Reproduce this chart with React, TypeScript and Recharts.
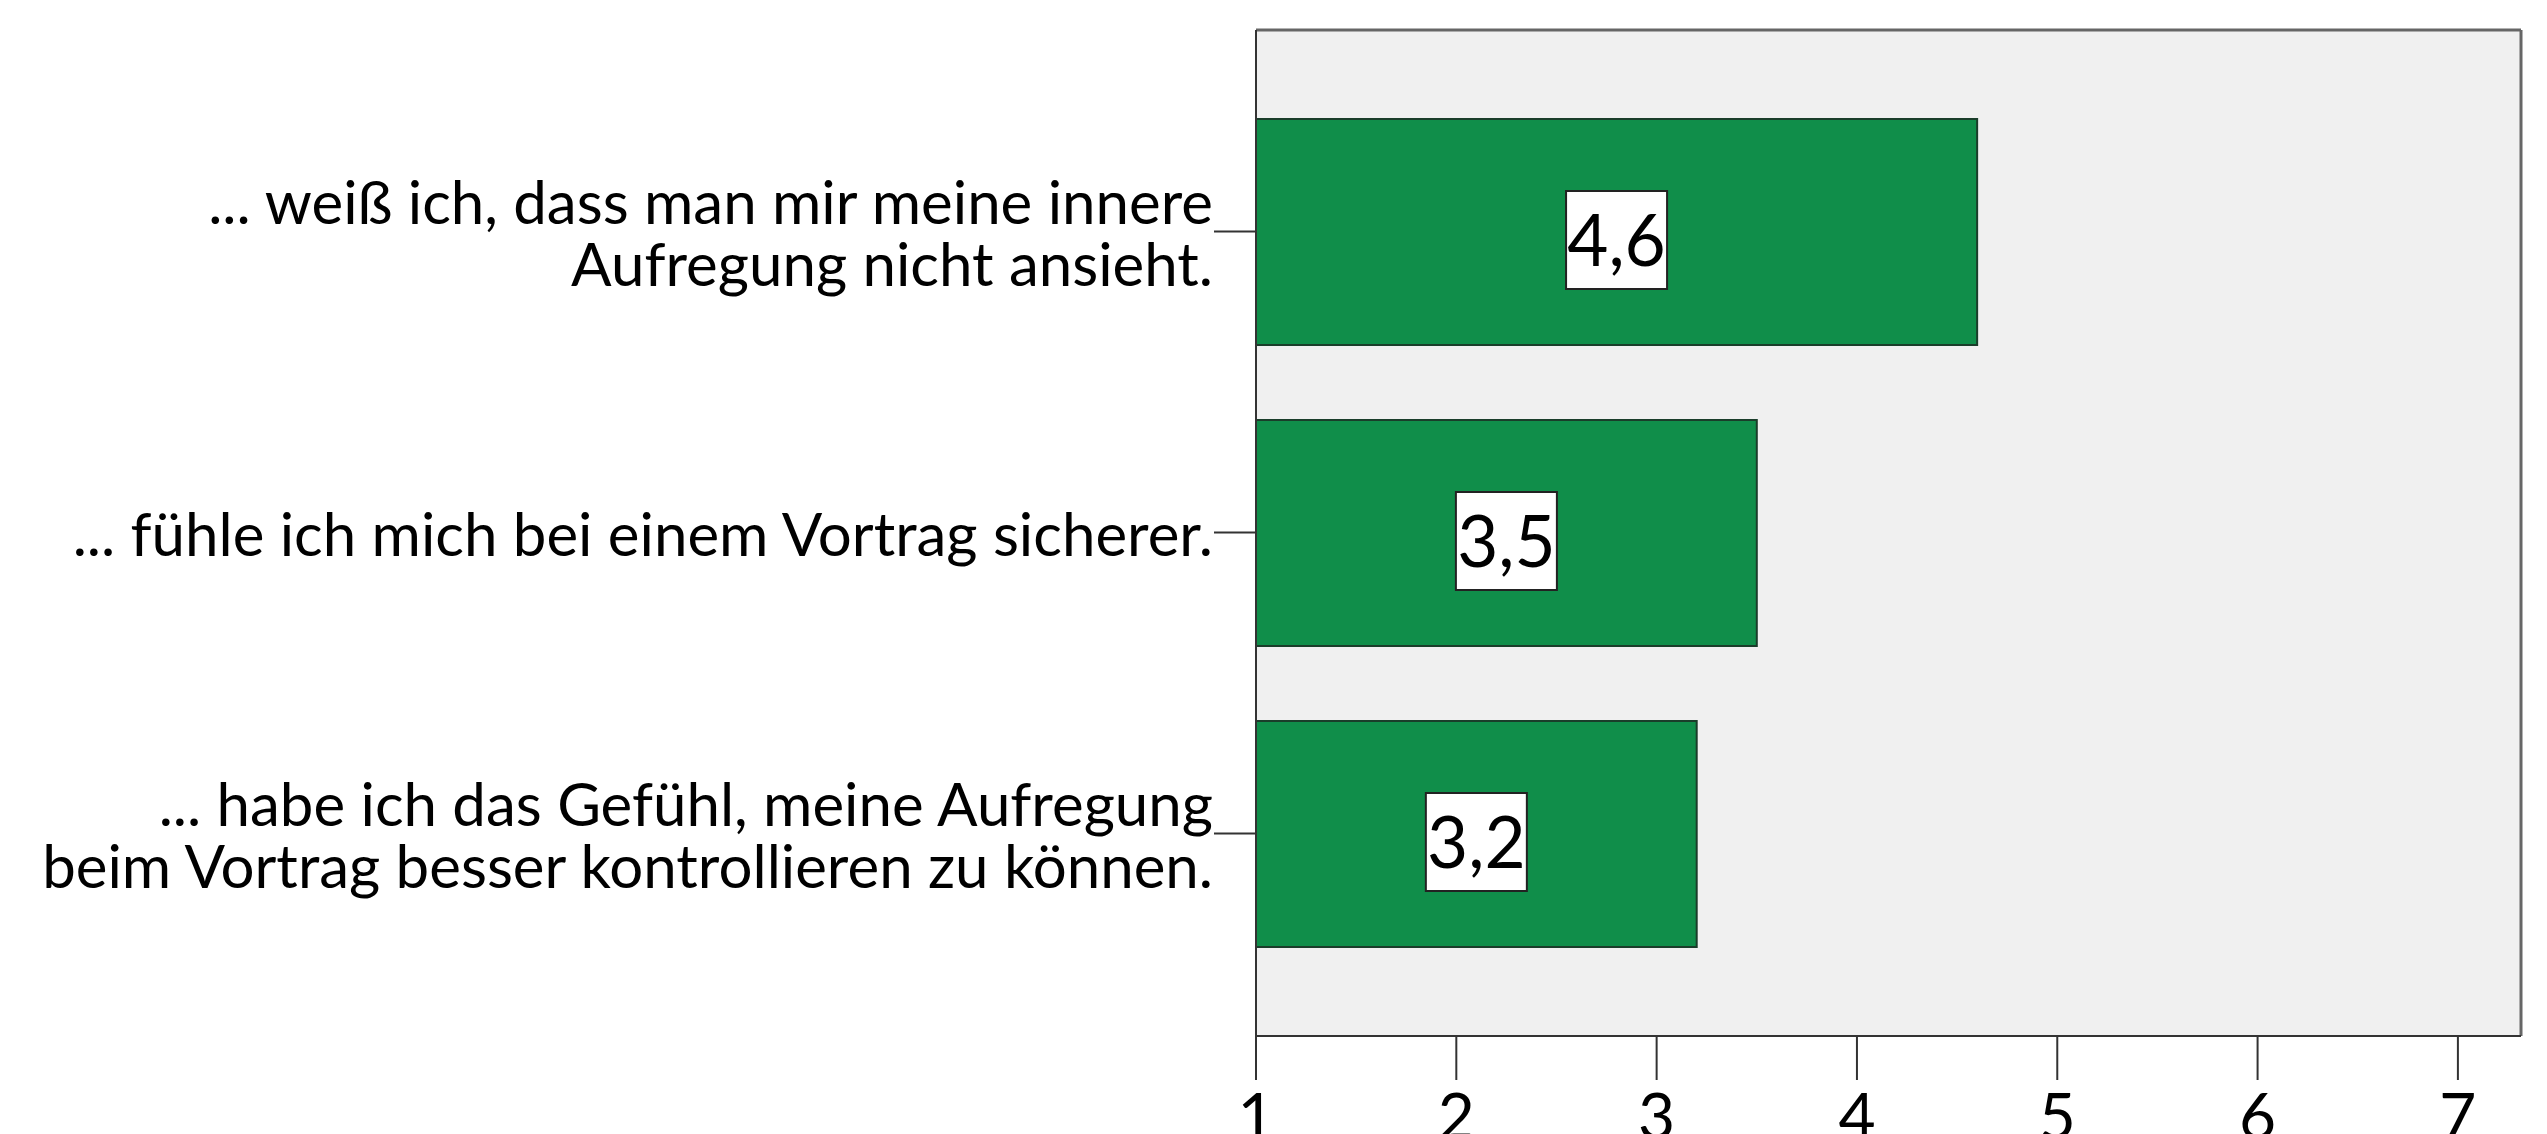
import { BarChart, Bar, XAxis, YAxis, CartesianGrid, LabelList } from 'recharts';

const statements = [
  '... weiß ich, dass man mir meine innere\nAufregung nicht ansieht.',
  '... fühle ich mich bei einem Vortrag sicherer.',
  '... habe ich das Gefühl, meine Aufregung\nbeim Vortrag besser kontrollieren zu können.',
];
const means = [4.6, 3.5, 3.2];
const scaleTicks = [1, 2, 3, 4, 5, 6, 7];

const data = statements.map((name, i) => ({ name, value: means[i] }));

const FONT = 'Lato, "Open Sans", sans-serif';
const GREEN = '#108e4a';

function StatementTick(props: any) {
  const { x, y, payload } = props;
  const lines: string[] = String(payload.value).split('\n');
  const lh = 62;
  const fs = 60;
  return (
    <g>
      {lines.map((line, i) => (
        <text
          key={i}
          x={x}
          y={y + 2 + (i - (lines.length - 1) / 2) * lh + fs * 0.36}
          textAnchor="end"
          fontSize={fs}
          fontFamily={FONT}
          fill="#000"
        >
          {line}
        </text>
      ))}
    </g>
  );
}

function ValueBox(props: any) {
  const { x, y, width, height, value } = props;
  const cx = x + width / 2;
  const cy = y + height / 2 + 8;
  const w = 101;
  const h = 98;
  return (
    <g>
      <rect x={cx - w / 2} y={cy - h / 2} width={w} height={h} fill="#fff" stroke="#222" strokeWidth={2} />
      <text x={cx} y={cy + 26} textAnchor="middle" fontSize={71} fontFamily={FONT} fill="#000">
        {String(value).replace('.', ',')}
      </text>
    </g>
  );
}

export default function App() {
  return (
    <div style={{ width: 2547, height: 1134, overflow: 'hidden', background: '#fff' }}>
      <style>{'body{margin:0}'}</style>
      <BarChart
        width={2547}
        height={1180}
        data={data}
        layout="vertical"
        margin={{ top: 30, right: 26, bottom: 44, left: 0 }}
      >
        <CartesianGrid
          fill="#f0f0f0"
          stroke="#666"
          strokeWidth={3}
          horizontalCoordinatesGenerator={({ offset }: any) => [offset.top]}
          verticalCoordinatesGenerator={({ offset }: any) => [offset.left + offset.width]}
        />
        <XAxis
          type="number"
          dataKey="value"
          domain={[1, 7.315]}
          ticks={scaleTicks}
          allowDataOverflow
          height={100}
          tickSize={44}
          tickMargin={14}
          axisLine={{ stroke: '#333', strokeWidth: 2 }}
          tickLine={{ stroke: '#333', strokeWidth: 2 }}
          tick={{ fontSize: 64, fontFamily: FONT, fill: '#000' }}
        />
        <YAxis
          type="category"
          dataKey="name"
          width={1256}
          padding={{ top: 51, bottom: 52 }}
          tickSize={42}
          tickMargin={1}
          axisLine={{ stroke: '#333', strokeWidth: 2 }}
          tickLine={{ stroke: '#333', strokeWidth: 2 }}
          tick={<StatementTick />}
          interval={0}
        />
        <Bar dataKey="value" fill={GREEN} stroke="#1a3d2a" strokeWidth={2} barSize={226} isAnimationActive={false}>
          <LabelList dataKey="value" content={<ValueBox />} />
        </Bar>
      </BarChart>
    </div>
  );
}
